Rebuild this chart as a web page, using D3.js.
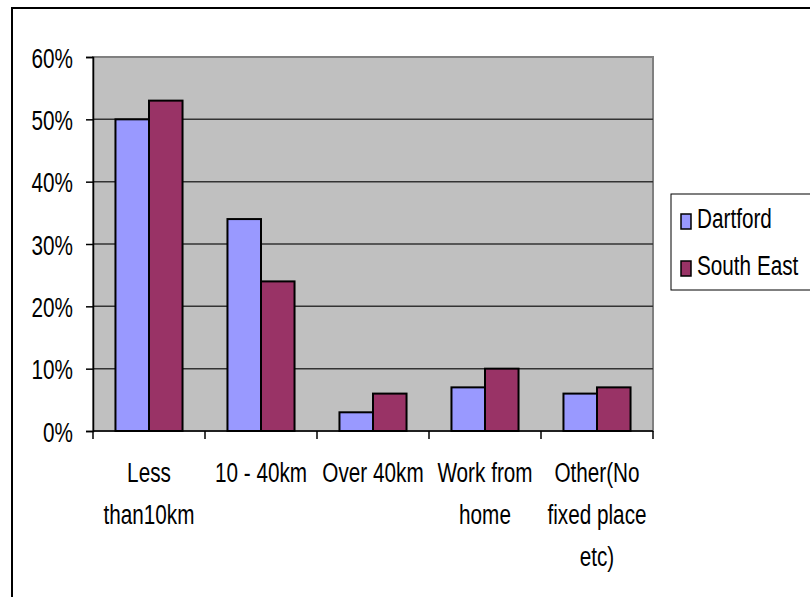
<!DOCTYPE html>
<html>
<head>
<meta charset="utf-8">
<script src="https://cdn.jsdelivr.net/npm/d3@7"></script>
<style>
  html, body { margin: 0; padding: 0; background: #fff; }
  svg { display: block; font-family: Arial, "Liberation Sans", sans-serif; }
</style>
</head>
<body>
<svg id="chart" width="810" height="597"></svg>
<script>
// Distance travelled to work, share of working residents
const categories = [
  ["Less", "than10km"],
  ["10 - 40km"],
  ["Over 40km"],
  ["Work from", "home"],
  ["Other(No", "fixed place", "etc)"]
];
const seriesNames = ["Dartford", "South East"];
const dartford = [50, 34, 3, 7, 6];
const southEast = [53, 24, 6, 10, 7];
const yTicks = [0, 10, 20, 30, 40, 50, 60];
const colors = ["#9999ff", "#993366"];

const FONT = 28;      // label size
const SX = 0.74;      // horizontal condensing of the lettering

const svg = d3.select("#chart");

// Outer chart frame
svg.append("rect")
  .attr("x", 12).attr("y", 8)
  .attr("width", 810).attr("height", 610)
  .attr("fill", "#fff").attr("stroke", "#000").attr("stroke-width", 2);

const plot = { left: 93, right: 653, top: 57, bottom: 431 };

const x = d3.scaleBand()
  .domain(d3.range(categories.length))
  .range([plot.left, plot.right])
  .paddingInner(0).paddingOuter(0);

const inner = d3.scaleBand()
  .domain(d3.range(seriesNames.length))
  .range([0, x.bandwidth()])
  .paddingOuter(0.67).paddingInner(0);

const y = d3.scaleLinear().domain([0, 60]).range([plot.bottom, plot.top]);

// Plot background
svg.append("rect")
  .attr("x", plot.left).attr("y", plot.top)
  .attr("width", plot.right - plot.left).attr("height", plot.bottom - plot.top)
  .attr("fill", "#c0c0c0").attr("stroke", "#808080").attr("stroke-width", 2);

// Gridlines
svg.append("g")
  .selectAll("line")
  .data(yTicks.filter(t => t > 0 && t < 60))
  .join("line")
  .attr("x1", plot.left).attr("x2", plot.right)
  .attr("y1", d => y(d)).attr("y2", d => y(d))
  .attr("stroke", "#333").attr("stroke-width", 1.5);

// Bars
const data = [dartford, southEast];
const groups = svg.append("g")
  .selectAll("g")
  .data(categories.map((c, i) => i))
  .join("g")
  .attr("transform", i => `translate(${x(i)},0)`);

groups.selectAll("rect")
  .data(i => data.map((s, k) => ({ k, v: s[i] })))
  .join("rect")
  .attr("x", d => inner(d.k))
  .attr("width", inner.bandwidth())
  .attr("y", d => y(d.v))
  .attr("height", d => y(0) - y(d.v))
  .attr("fill", d => colors[d.k])
  .attr("stroke", "#000").attr("stroke-width", 2);

// Y axis
const yAxis = d3.axisLeft(y)
  .tickValues(yTicks)
  .tickSize(7)
  .tickPadding(13)
  .tickFormat(d => d + "%");

const gy = svg.append("g")
  .attr("transform", `translate(${plot.left},0)`)
  .call(yAxis);
gy.select(".domain").attr("stroke", "#000").attr("stroke-width", 1.5);
gy.selectAll(".tick line").attr("stroke", "#000").attr("stroke-width", 1.5);
gy.selectAll(".tick text")
  .attr("font-size", FONT).attr("fill", "#000")
  .attr("font-family", "Arial, 'Liberation Sans', sans-serif")
  .attr("x", -20 / SX)
  .attr("dy", "0.36em")
  .attr("transform", `scale(${SX},1)`);

// X axis line and boundary ticks
const xEdges = d3.range(categories.length + 1).map(i =>
  i < categories.length ? x(i) : x(categories.length - 1) + x.bandwidth());
svg.append("line")
  .attr("x1", plot.left).attr("x2", plot.right)
  .attr("y1", plot.bottom).attr("y2", plot.bottom)
  .attr("stroke", "#000").attr("stroke-width", 1.5);
svg.append("g")
  .selectAll("line")
  .data(xEdges)
  .join("line")
  .attr("x1", d => d).attr("x2", d => d)
  .attr("y1", plot.bottom).attr("y2", plot.bottom + 8)
  .attr("stroke", "#000").attr("stroke-width", 1.5);

// Category labels (multi-line)
const labels = svg.append("g")
  .attr("transform", `scale(${SX},1)`)
  .selectAll("text")
  .data(categories.map((c, i) => ({ c, i })))
  .join("text")
  .attr("text-anchor", "middle")
  .attr("font-size", FONT)
  .attr("fill", "#000")
  .attr("y", 482);
labels.selectAll("tspan")
  .data(d => d.c.map((line, j) => ({ line, j, cx: (x(d.i) + x.bandwidth() / 2) / SX })))
  .join("tspan")
  .attr("x", d => d.cx)
  .attr("dy", d => d.j === 0 ? 0 : 42)
  .text(d => d.line);

// Legend
const legend = svg.append("g");
legend.append("rect")
  .attr("x", 671).attr("y", 194)
  .attr("width", 160).attr("height", 96)
  .attr("fill", "#fff").attr("stroke", "#000").attr("stroke-width", 1);
const li = legend.selectAll("g")
  .data(seriesNames.map((n, k) => ({ n, k })))
  .join("g")
  .attr("transform", d => `translate(681, ${214 + d.k * 47})`);
li.append("rect")
  .attr("width", 10).attr("height", 15)
  .attr("fill", d => colors[d.k])
  .attr("stroke", "#000").attr("stroke-width", 1.5);
li.append("text")
  .attr("x", 16 / SX).attr("y", 14)
  .attr("transform", `scale(${SX},1)`)
  .attr("font-size", FONT)
  .attr("fill", "#000")
  .text(d => d.n);
</script>
</body>
</html>
